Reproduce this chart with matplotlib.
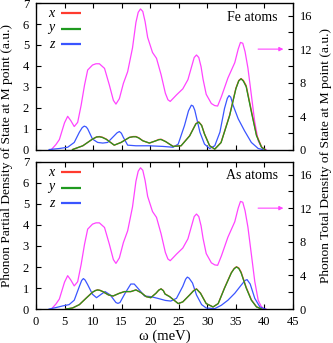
import numpy as np
import matplotlib.pyplot as plt
from matplotlib.ticker import MultipleLocator

plt.rcParams['font.family'] = ['Liberation Serif', 'DejaVu Serif']
plt.rcParams['mathtext.fontset'] = 'custom'
plt.rcParams['mathtext.it'] = 'Liberation Serif:italic'

# total DOS (right axis), same curve in both panels
tot_e = [2.7, 3.5, 4.1, 5.0, 5.55, 6.1, 6.7, 7.3, 7.9, 8.5, 9.05, 9.9, 10.5,
         11.1, 12.0, 12.85, 13.55, 14.0, 14.6, 15.3, 16.05, 16.9, 17.5, 17.9,
         18.3, 18.7, 19.1, 19.55, 20.4, 21.1, 21.9, 22.65, 23.1, 23.5, 24.0,
         24.6, 25.7, 26.6, 27.2, 27.7, 28.1, 28.5, 28.9, 29.25, 29.8, 30.7,
         31.3, 31.8, 32.45, 33.6, 34.8, 35.4, 35.8, 36.2, 36.6, 37.1, 37.7,
         38.3, 38.9, 39.4, 39.8, 40.3]
tot_dos = [0.0, 0.6, 1.2, 3.2, 3.97, 3.45, 2.75, 3.25, 5.27, 7.7, 9.5, 10.1,
           10.25, 10.25, 9.7, 7.7, 5.88, 5.43, 6.08, 7.9, 9.3, 12.15, 15.2,
           16.4, 16.8, 16.5, 15.3, 13.4, 11.6, 10.9, 8.95, 6.73, 5.95, 5.75,
           6.1, 6.53, 7.25, 8.35, 9.8, 11.0, 11.3, 11.0, 9.9, 8.4, 6.6, 5.5,
           5.25, 5.2, 6.3, 8.55, 10.38, 12.0, 12.8, 12.7, 11.7, 9.75, 6.53,
           3.28, 1.05, 0.35, 0.08, 0.0]

# Fe atoms
fe_z_e = [2.3, 4.1, 5.55, 6.7, 7.6, 8.1, 8.46, 8.8, 9.05, 9.9, 10.8, 11.7,
          12.55, 13.7, 14.2, 14.6, 14.95, 15.3, 16.05, 17.5, 19.8, 22.2, 24.0,
          24.9, 26.0, 26.7, 27.2, 27.5, 27.8, 28.7, 29.5, 30.4, 31.3, 32.2,
          33.0, 33.5, 33.8, 34.1, 34.5, 35.4, 36.5, 37.7, 38.9, 39.7]
fe_z = [0.0, 0.05, 0.11, 0.34, 0.83, 1.05, 1.12, 1.08, 0.99, 0.5, 0.34, 0.31,
        0.34, 0.66, 0.8, 0.86, 0.78, 0.58, 0.21, 0.18, 0.18, 0.15, 0.11, 0.26,
        1.15, 1.85, 2.12, 2.08, 1.88, 0.83, 0.26, 0.05, 0.18, 0.83, 1.96, 2.45,
        2.58, 2.5, 2.12, 1.47, 0.9, 0.34, 0.05, 0.0]
fe_xy_e = [6.4, 8.2, 9.9, 10.6, 11.1, 11.6, 12.3, 13.7, 14.9, 16.35, 17.0,
           17.5, 18.0, 18.7, 19.85, 21.0, 21.5, 21.9, 22.7, 24.0, 25.4, 26.9,
           28.0, 28.5, 29.0, 29.5, 30.4, 31.3, 32.4, 33.9, 35.0, 35.5, 35.9,
           36.3, 36.8, 37.7, 38.6, 39.5, 40.1]
fe_x = [0.0, 0.18, 0.5, 0.6, 0.62, 0.59, 0.5, 0.21, 0.34, 0.58, 0.62, 0.62,
        0.56, 0.42, 0.31, 0.42, 0.48, 0.49, 0.38, 0.15, 0.18, 0.66, 1.24,
        1.32, 1.16, 0.75, 0.18, 0.02, 0.34, 1.64, 2.93, 3.3, 3.39, 3.3, 3.05,
        1.86, 0.7, 0.12, 0.0]
fe_y = [0.0, 0.18, 0.5, 0.6, 0.61, 0.58, 0.49, 0.21, 0.34, 0.58, 0.61, 0.61,
        0.55, 0.42, 0.31, 0.42, 0.47, 0.48, 0.38, 0.15, 0.18, 0.65, 1.23,
        1.31, 1.15, 0.74, 0.18, 0.02, 0.33, 1.62, 2.91, 3.28, 3.38, 3.27,
        3.0, 1.8, 0.66, 0.1, 0.0]

# As atoms
as_z_e = [2.3, 3.5, 4.7, 5.8, 6.7, 7.6, 8.0, 8.3, 8.6, 9.05, 9.9, 10.6, 11.4,
          12.1, 13.0, 14.0, 14.35, 14.7, 15.6, 16.6, 17.2, 18.1, 19.0, 20.1,
          21.3, 22.65, 23.6, 24.6, 25.7, 26.2, 26.5, 26.8, 27.4, 28.1, 29.0,
          29.8, 31.3, 32.45, 33.6, 34.8, 35.9, 36.6, 36.95, 37.5, 38.3, 39.2,
          40.1]
as_z = [0.0, 0.07, 0.15, 0.21, 0.42, 1.08, 1.36, 1.45, 1.38, 1.16, 0.7, 0.54,
        0.7, 0.83, 0.67, 0.31, 0.27, 0.31, 0.75, 1.19, 1.19, 0.91, 0.62, 0.59,
        0.51, 0.41, 0.38, 0.51, 1.08, 1.42, 1.52, 1.47, 1.24, 0.67, 0.21, 0.05,
        0.02, 0.18, 0.42, 0.75, 1.13, 1.36, 1.4, 1.19, 0.51, 0.1, 0.0]
as_xy_e = [5.25, 6.4, 7.6, 8.75, 9.9, 10.4, 10.8, 11.2, 11.7, 12.7, 13.5,
           14.6, 15.5, 16.6, 17.5, 18.4, 19.3, 20.1, 21.0, 21.5, 21.9, 22.3,
           22.6, 23.4, 24.9, 25.7, 26.9, 27.6, 28.1, 28.8, 29.8, 31.0, 31.9,
           33.0, 34.2, 34.7, 35.1, 35.5, 35.9, 36.8, 37.7, 38.6, 39.5]
as_x = [0.0, 0.05, 0.21, 0.51, 0.8, 0.88, 0.91, 0.89, 0.83, 0.67, 0.62, 0.75,
        0.83, 0.83, 0.91, 0.78, 0.59, 0.54, 0.75, 0.9, 0.96, 0.88, 0.72, 0.59,
        0.26, 0.34, 0.67, 0.88, 0.96, 0.76, 0.26, 0.1, 0.26, 1.0, 1.73, 1.93,
        2.01, 1.95, 1.76, 1.03, 0.44, 0.11, 0.0]
as_y = [0.0, 0.05, 0.21, 0.51, 0.8, 0.88, 0.91, 0.89, 0.83, 0.67, 0.62, 0.75,
        0.83, 0.83, 0.91, 0.78, 0.59, 0.54, 0.75, 0.9, 0.96, 0.87, 0.71, 0.59,
        0.26, 0.34, 0.67, 0.87, 0.95, 0.75, 0.26, 0.1, 0.26, 0.99, 1.72, 1.92,
        2.0, 1.93, 1.73, 1.0, 0.42, 0.1, 0.0]

panels = [
    ("Fe atoms", fe_xy_e, fe_x, fe_y, fe_z_e, fe_z),
    ("As atoms", as_xy_e, as_x, as_y, as_z_e, as_z),
]

red = '#ff3b2f'
green = '#1f9a1f'
blue = '#3a55ff'
magenta = '#ff44ff'

fig = plt.figure(figsize=(3.33, 3.43), dpi=100)
boxes = [[0.108, 0.564, 0.772, 0.427], [0.108, 0.099, 0.772, 0.429]]

for k, (name, xy_e, xs, ys, z_e, zs) in enumerate(panels):
    ax = fig.add_axes(boxes[k])
    ax2 = ax.twinx()
    ax.set_zorder(ax2.get_zorder() + 1)
    ax.patch.set_visible(False)

    ax2.plot(tot_e, tot_dos, color=magenta, lw=0.9)
    ax2.annotate('', xy=(43.8, 12), xytext=(38.4, 12),
                 arrowprops=dict(arrowstyle='-|>', color=magenta, lw=0.8,
                                 mutation_scale=6))

    ax.plot(z_e, zs, color=blue, lw=0.9)
    ax.plot(xy_e, xs, color=red, lw=1.0)
    ax.plot(xy_e, ys, color=green, lw=0.9)

    ax.set_xlim(0, 45)
    ax.set_ylim(0, 7)
    ax2.set_ylim(0, 17.5)
    ax.xaxis.set_major_locator(MultipleLocator(5))
    ax.yaxis.set_major_locator(MultipleLocator(1))
    ax2.yaxis.set_major_locator(MultipleLocator(4))
    ax2.yaxis.set_minor_locator(MultipleLocator(2))
    ax.tick_params(direction='in', top=True, right=False, length=3.5,
                   width=0.8, labelsize=9, pad=5)
    ax2.tick_params(which='both', direction='in', length=3.5, width=0.8,
                    labelsize=9, pad=5)
    if k == 0:
        ax.tick_params(labelbottom=False)
    else:
        ax.set_xlabel('ω (meV)', fontsize=10.5, labelpad=1)

    for sp in ax.spines.values():
        sp.set_linewidth(0.9)

    ax.text(0.94, 0.905, name, transform=ax.transAxes, ha='right', va='center',
            fontsize=10)

    # legend
    for i, (lab, c) in enumerate([('x', red), ('y', green), ('z', blue)]):
        yy = 0.93 - i * 0.106
        ax.text(0.078, yy, '$' + lab + '$', transform=ax.transAxes,
                ha='right', va='center', fontsize=10)
        ax.plot([0.096, 0.174], [yy, yy], transform=ax.transAxes, color=c,
                lw=1.6, solid_capstyle='butt')

fig.text(0.022, 0.548, 'Phonon Partial Density of State at M point (a.u.)',
         rotation=90, ha='center', va='center', fontsize=9.7)
fig.text(0.978, 0.548, 'Phonon Total Density of State at M point (a.u.)',
         rotation=90, ha='center', va='center', fontsize=9.7)

fig.savefig('out.png', dpi=100)
